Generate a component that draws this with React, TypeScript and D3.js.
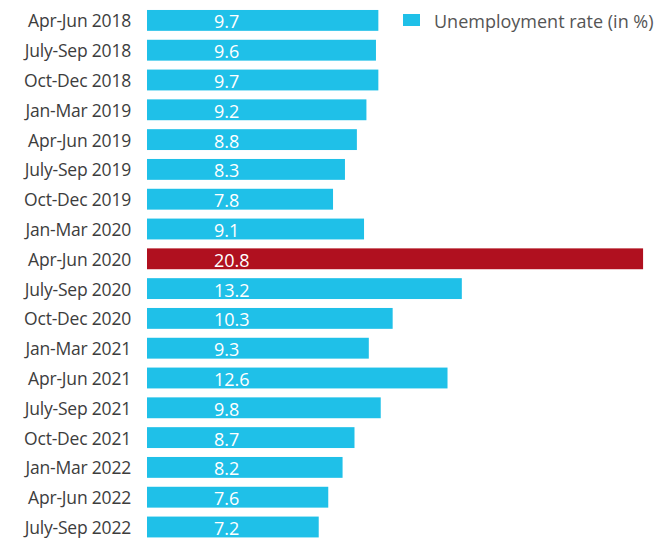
import React from "react";
import * as d3 from "d3";

const categories = [
  "Apr-Jun 2018", "July-Sep 2018", "Oct-Dec 2018", "Jan-Mar 2019",
  "Apr-Jun 2019", "July-Sep 2019", "Oct-Dec 2019", "Jan-Mar 2020",
  "Apr-Jun 2020", "July-Sep 2020", "Oct-Dec 2020", "Jan-Mar 2021",
  "Apr-Jun 2021", "July-Sep 2021", "Oct-Dec 2021", "Jan-Mar 2022",
  "Apr-Jun 2022", "July-Sep 2022",
];
const values = [9.7, 9.6, 9.7, 9.2, 8.8, 8.3, 7.8, 9.1, 20.8, 13.2, 10.3, 9.3, 12.6, 9.8, 8.7, 8.2, 7.6, 7.2];
const highlight = ["Apr-Jun 2020"];
const legendLabel = "Unemployment rate (in %)";

const W = 667, H = 539;
const BLUE = "#1fc0e8";
const RED = "#b0101f";
const FONT = "'Open Sans', sans-serif";

export default function App() {
  const step = 29.8;
  const y = d3.scaleBand<string>().domain(categories).range([5.5, 5.5 + 18 * step]).paddingInner(0.3).paddingOuter(0.15);
  const x = d3.scaleLinear().domain([0, 21]).range([147, 147 + 21 * 23.85]);
  return (
    <svg width={W} height={H} style={{ position: "absolute", left: 0, top: 0, background: "#fff" }}>
      {categories.map((c, i) => {
        const yy = y(c)!;
        const bw = y.bandwidth();
        return (
          <g key={c}>
            <text x={131} y={yy + bw / 2} textAnchor="end" dominantBaseline="central" fontFamily={FONT} fontSize={17.5} fontWeight={500} letterSpacing={-0.2} fill="#3d3d3d">{c}</text>
            <rect x={x(0)} y={yy} width={x(values[i]) - x(0)} height={bw} fill={highlight.includes(c) ? RED : BLUE} />
            <text x={214} y={yy + bw / 2 + 1} dominantBaseline="central" fontFamily={FONT} fontSize={18} fontWeight={500} fill="#fff">{values[i].toFixed(1)}</text>
          </g>
        );
      })}
      <rect x={403} y={14} width={17} height={12} fill={BLUE} />
      <text x={434} y={20.5} dominantBaseline="central" fontFamily={FONT} fontSize={18} fill="#555">{legendLabel}</text>
    </svg>
  );
}
